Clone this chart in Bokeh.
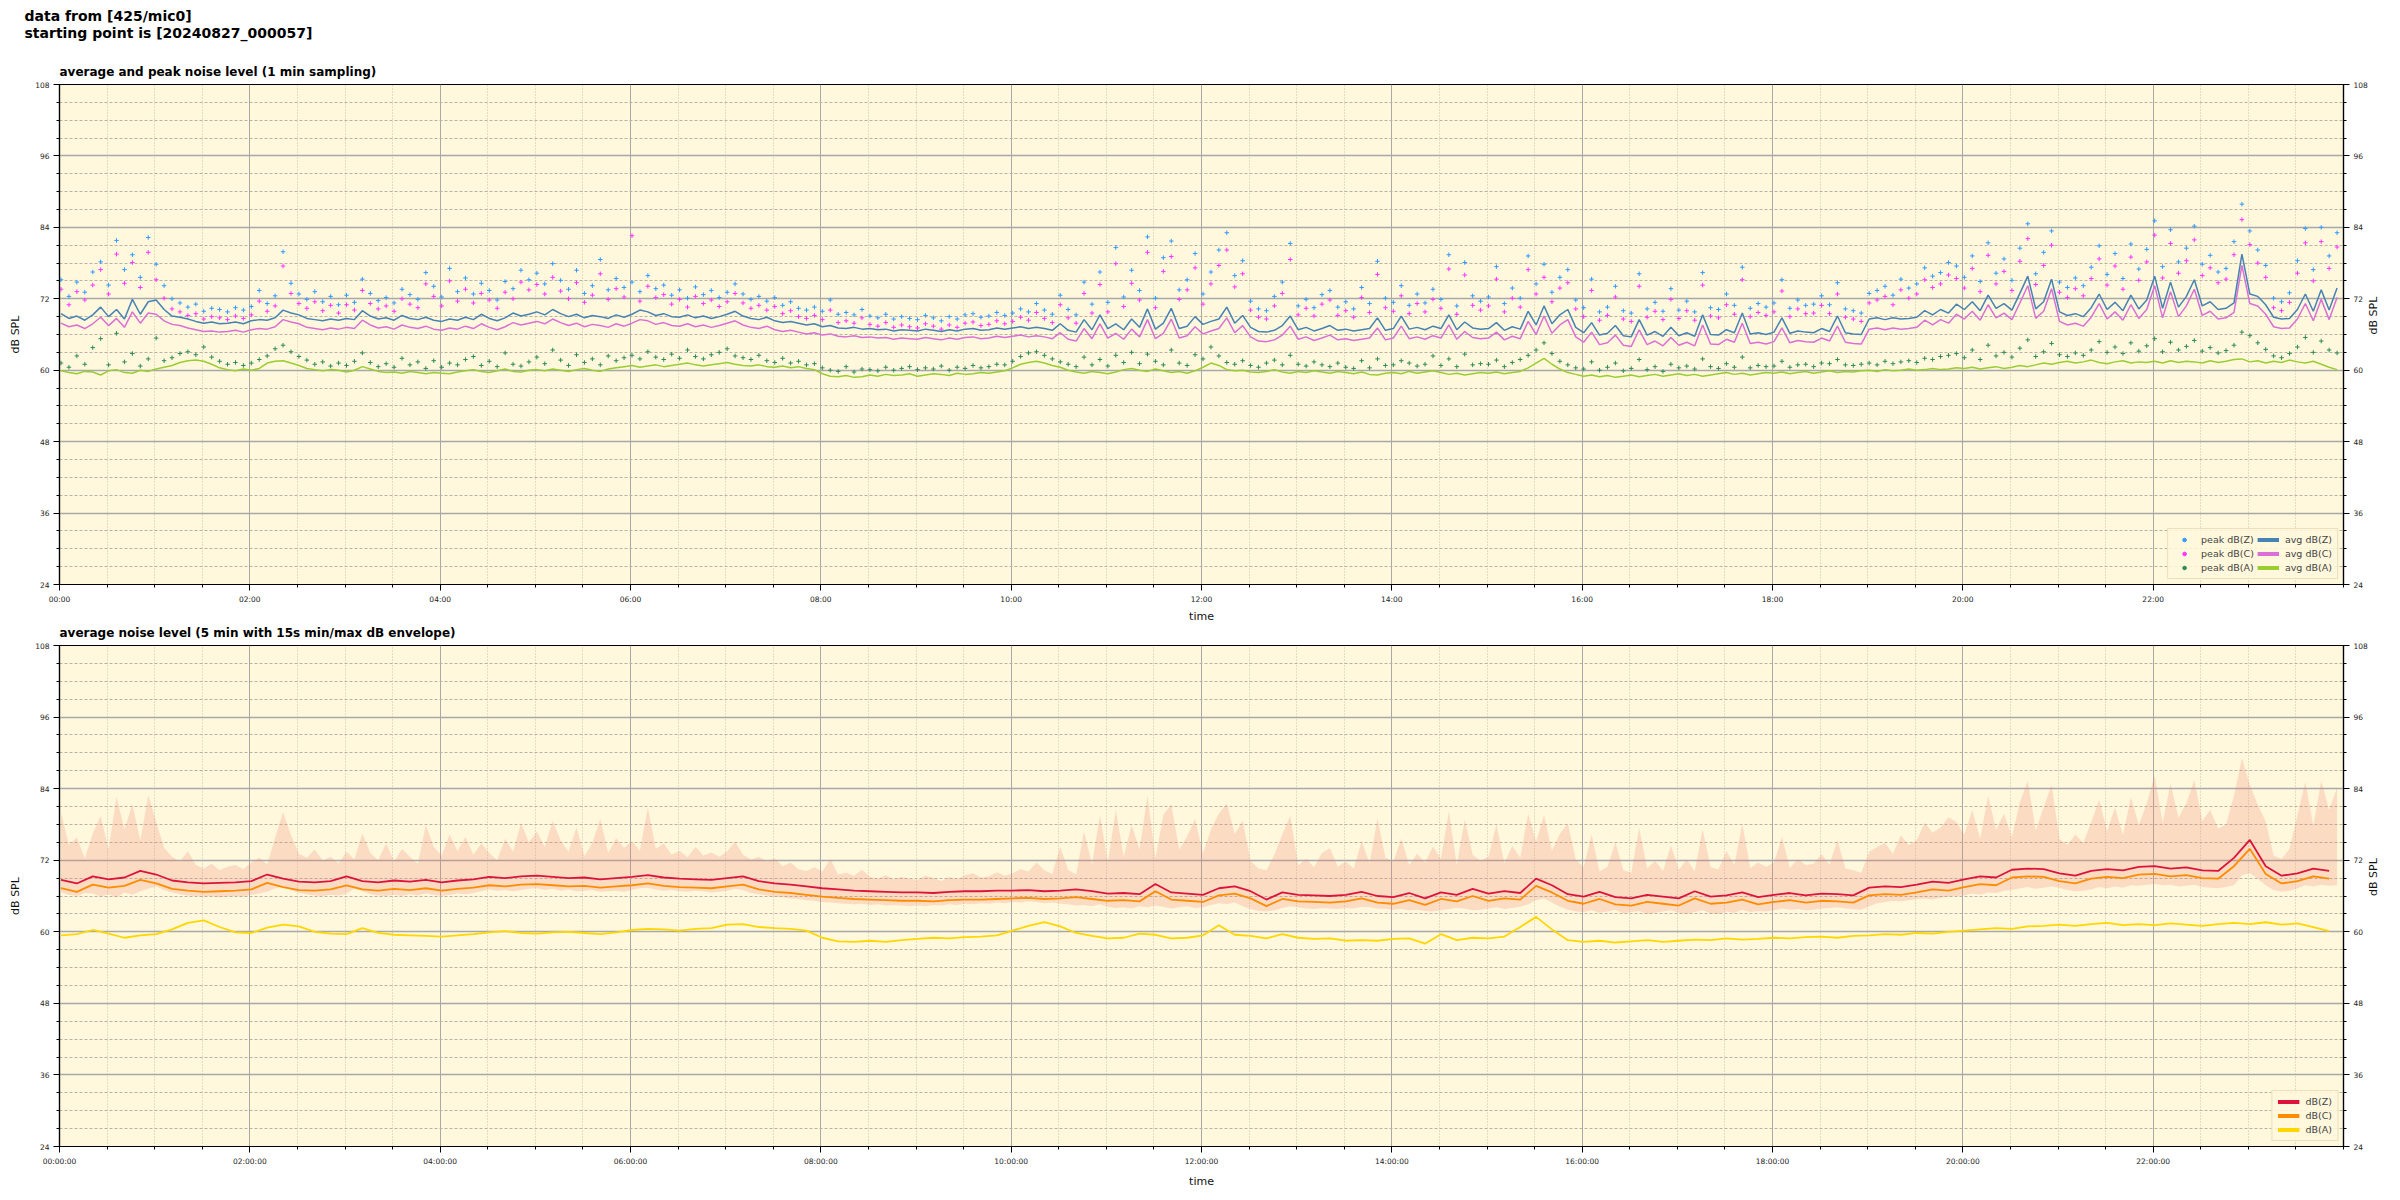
import math
import pandas as pd
from bokeh.plotting import figure
from bokeh.models import (Range1d, LinearAxis, FixedTicker, DatetimeTickFormatter,
                          Legend, LegendItem, Title)
from bokeh.layouts import column
from bokeh.embed import file_html
from bokeh.resources import INLINE

FONT = "DejaVu Sans"
BG = "#FFF8DC"

# ---------------- data ----------------
MAIN_TITLE_1 = "data from [425/mic0]"
MAIN_TITLE_2 = "starting point is [20240827_000057]"
TITLE_TOP = "average and peak noise level (1 min sampling)"
TITLE_BOTTOM = "average noise level (5 min with 15s min/max dB envelope)"

y_major_ticks = [24, 36, 48, 60, 72, 84, 96, 108]
y_minor_ticks = list(range(24, 109, 3))
x_major_hours = list(range(0, 24, 2))
x_minor_minutes = list(range(0, 24 * 60 + 1, 30))

# top panel: 5-minute samples starting 00:00:57 (one row per hour)
avg_z = [
    69.5, 68.7, 69.1, 68.4, 69.3, 70.6, 69.0, 70.2, 68.6, 71.9, 69.4, 71.5,
    71.8, 70.2, 69.1, 68.9, 68.6, 68.2, 67.9, 68.1, 67.8, 67.9, 68.1, 67.8,
    68.3, 68.5, 68.4, 68.8, 70.1, 69.6, 69.3, 68.7, 68.5, 68.3, 68.6, 68.4,
    68.7, 68.5, 70.0, 69.1, 68.6, 68.8, 68.4, 69.2, 68.7, 68.5, 68.9, 68.4,
    68.2, 68.6, 68.4, 68.9, 68.5, 69.4, 68.7, 68.3, 68.8, 69.6, 69.1, 69.4,
    69.8, 69.3, 70.2, 69.5, 69.0, 69.4, 68.8, 69.2, 69.0, 68.7, 69.3, 68.9,
    69.4, 70.1, 69.8, 69.2, 69.5, 69.0, 68.9, 69.3, 68.8, 69.1, 68.7, 69.0,
    69.4, 69.9, 69.1, 68.7, 68.5, 68.9, 68.3, 68.0, 68.2, 67.9, 67.6, 67.8,
    67.3, 67.5, 67.1, 67.0, 67.2, 66.9, 67.0, 66.8, 66.9, 66.6, 66.8, 66.7,
    66.6, 66.9, 66.7, 66.5, 66.8, 66.6, 66.9, 67.0, 66.7, 66.8, 67.1, 66.9,
    67.1, 67.3, 67.0, 67.2, 67.0, 66.7, 67.8, 66.7, 66.4, 68.5, 66.8, 69.3,
    67.0, 67.8, 66.8, 68.6, 67.2, 70.3, 66.9, 67.9, 70.4, 67.0, 67.4, 69.0,
    67.7, 68.2, 68.6, 70.6, 67.9, 69.2, 67.2, 66.5, 66.4, 66.7, 67.5, 69.1,
    66.8, 67.2, 66.6, 67.0, 67.5, 66.7, 66.9, 66.6, 66.8, 67.0, 68.8, 66.7,
    67.0, 69.1, 66.9, 67.2, 66.8, 67.4, 67.0, 69.3, 66.8, 68.1, 67.1, 66.9,
    67.0, 68.0, 66.7, 67.3, 66.9, 69.9, 67.6, 70.8, 67.8, 69.3, 70.2, 67.2,
    66.3, 68.0, 65.9, 66.2, 67.5, 65.8, 65.6, 68.5, 65.9, 66.5, 65.7, 67.2,
    65.8, 66.3, 65.7, 69.3, 66.0, 65.9, 66.8, 66.3, 69.6, 66.1, 66.3, 66.0,
    66.4, 68.8, 66.2, 66.6, 66.4, 66.3, 67.0, 66.5, 69.1, 66.3, 66.1, 66.0,
    68.6, 68.8, 68.5, 68.8, 68.6, 68.7, 68.9, 70.0, 69.3, 70.2, 69.6, 71.1,
    70.2, 71.5, 70.0, 72.6, 70.4, 71.2, 70.1, 72.9, 75.8, 70.3, 71.5, 75.3,
    69.8, 69.2, 69.5, 69.0, 70.5, 72.8, 70.2, 71.4, 70.0, 72.6, 70.3, 71.8,
    75.8, 70.4, 74.8, 70.6, 72.4, 75.2, 70.8, 71.5, 70.2, 70.4, 71.3, 79.5,
    72.8, 72.4, 71.0, 68.9, 68.6, 68.7, 70.2, 72.8, 69.9, 73.5, 70.1, 73.8,
]
avg_c = [
    67.9, 67.3, 67.6, 67.0, 67.8, 68.9, 67.5, 68.7, 67.2, 69.8, 67.9, 69.6,
    69.4, 68.3, 67.7, 67.5, 67.1, 66.8, 66.5, 66.6, 66.4, 66.5, 66.7, 66.4,
    66.8, 67.0, 66.9, 67.3, 68.5, 68.1, 67.8, 67.2, 67.0, 66.8, 67.1, 66.9,
    67.2, 67.0, 68.4, 67.6, 67.1, 67.3, 66.9, 67.6, 67.2, 67.0, 67.4, 66.9,
    66.7, 67.1, 66.9, 67.4, 67.0, 67.8, 67.2, 66.8, 67.3, 68.0, 67.6, 67.9,
    68.2, 67.8, 68.6, 68.0, 67.5, 67.9, 67.3, 67.7, 67.5, 67.2, 67.8, 67.4,
    67.9, 68.5, 68.3, 67.7, 68.0, 67.5, 67.4, 67.8, 67.3, 67.6, 67.2, 67.5,
    67.9, 68.3, 67.6, 67.2, 67.0, 67.4, 66.8, 66.5, 66.7, 66.4, 66.1, 66.3,
    65.9, 66.1, 65.7, 65.6, 65.8, 65.5, 65.6, 65.4, 65.5, 65.2, 65.4, 65.3,
    65.2, 65.5, 65.3, 65.1, 65.4, 65.2, 65.5, 65.6, 65.3, 65.4, 65.7, 65.5,
    65.7, 65.9, 65.6, 65.8, 65.6, 65.3, 66.3, 65.2, 64.9, 67.0, 65.3, 67.8,
    65.4, 66.2, 65.2, 66.9, 65.6, 68.5, 65.3, 66.2, 68.6, 65.4, 65.8, 67.3,
    66.1, 66.6, 67.0, 68.8, 66.3, 67.5, 65.6, 64.9, 64.8, 65.1, 65.9, 67.4,
    65.2, 65.6, 65.0, 65.4, 65.9, 65.1, 65.3, 65.0, 65.2, 65.4, 67.1, 65.1,
    65.4, 67.4, 65.3, 65.6, 65.2, 65.8, 65.4, 67.6, 65.2, 66.5, 65.5, 65.3,
    65.4, 66.4, 65.1, 65.7, 65.3, 68.2, 66.0, 69.1, 66.2, 67.6, 68.5, 65.6,
    64.7, 66.4, 64.3, 64.6, 65.9, 64.2, 64.0, 66.8, 64.3, 64.9, 64.1, 65.5,
    64.2, 64.7, 64.1, 67.6, 64.4, 64.3, 65.2, 64.7, 67.9, 64.5, 64.7, 64.4,
    64.8, 67.1, 64.6, 65.0, 64.8, 64.7, 65.4, 64.9, 67.4, 64.7, 64.5, 64.4,
    66.9, 67.1, 66.8, 67.1, 66.9, 67.0, 67.2, 68.4, 67.6, 68.5, 67.9, 69.4,
    68.6, 69.9, 68.4, 71.0, 68.8, 69.6, 68.5, 71.3, 74.2, 68.7, 69.9, 73.7,
    68.2, 67.6, 67.9, 67.4, 68.9, 71.2, 68.6, 69.8, 68.4, 71.0, 68.7, 70.2,
    74.2, 68.8, 73.2, 69.0, 70.8, 73.6, 69.2, 69.9, 68.6, 68.8, 69.7, 77.6,
    71.2, 70.8, 69.4, 67.3, 67.0, 67.1, 68.6, 71.2, 68.3, 71.9, 68.5, 72.2,
]
avg_a = [
    59.9, 59.6, 59.4, 59.8, 59.7, 59.2, 59.9, 60.1, 59.6, 59.5, 60.0, 59.8,
    60.2, 60.5, 60.8, 61.3, 61.6, 61.7, 61.5, 61.0, 60.4, 60.1, 59.9, 60.2,
    60.0, 60.3, 61.2, 61.5, 61.6, 61.2, 60.8, 60.3, 60.1, 59.9, 60.1, 60.0,
    59.7, 60.0, 60.6, 60.2, 59.8, 59.6, 59.7, 59.5, 59.8, 59.6, 59.4, 59.6,
    59.5, 59.4, 59.7, 59.9, 60.1, 59.8, 59.6, 59.9, 60.2, 59.8, 59.7, 60.0,
    60.1, 59.9, 60.2, 60.0, 59.8, 60.1, 60.3, 60.0, 59.8, 60.2, 60.4, 60.6,
    60.8, 60.5, 60.7, 60.9, 60.6, 60.8, 61.0, 61.2, 60.9, 60.7, 60.9, 61.1,
    61.3, 61.0, 60.8, 60.7, 60.9, 60.6, 60.5, 60.7, 60.4, 60.6, 60.3, 60.1,
    59.4, 59.0, 58.9, 59.1, 58.8, 58.9, 59.2, 59.0, 59.3, 59.1, 59.2, 59.4,
    59.0, 59.2, 59.4, 59.3, 59.1, 59.5, 59.3, 59.4, 59.6, 59.5, 59.7, 59.9,
    60.4, 61.0, 61.3, 61.5, 61.2, 60.8, 60.5, 60.0, 59.7, 59.5, 59.8, 59.6,
    59.4, 59.7, 60.1, 60.3, 60.0, 59.8, 60.2, 59.9, 59.6, 59.8, 59.5, 59.9,
    60.5, 61.2, 60.8, 60.1, 59.9, 60.0, 59.7, 59.6, 59.8, 60.1, 59.7, 59.5,
    59.8, 59.6, 59.9, 59.7, 59.5, 59.8, 59.6, 59.4, 59.7, 59.3, 59.2, 59.5,
    59.6, 59.4, 59.8, 59.5, 59.7, 59.9, 59.6, 59.3, 59.5, 59.2, 59.4, 59.6,
    59.5, 59.7, 59.4, 59.6, 59.8, 60.4, 61.2, 62.0, 61.0, 60.2, 59.6, 59.3,
    59.0, 59.2, 58.9, 59.1, 58.8, 59.0, 59.2, 58.9, 59.1, 59.3, 59.0, 59.2,
    59.4, 59.1, 59.3, 59.0, 59.2, 59.4, 59.6, 59.3, 59.5, 59.2, 59.4, 59.6,
    59.5, 59.7, 59.4, 59.6, 59.8, 59.5, 59.7, 59.9, 59.6, 59.8, 59.7, 59.9,
    60.0, 59.8, 60.1, 59.9, 60.0, 60.2, 60.0, 60.1, 60.3, 60.1, 60.2, 60.4,
    60.3, 60.5, 60.2, 60.4, 60.6, 60.3, 60.5, 60.8, 60.6, 60.9, 61.2, 61.0,
    61.3, 61.5, 61.2, 61.4, 61.7, 61.3, 61.1, 61.4, 61.6, 61.2, 61.4, 61.3,
    61.5, 61.2, 61.6, 61.3, 61.5, 61.4, 61.2, 61.6, 61.3, 61.5, 61.8, 61.9,
    61.4, 61.6, 61.2, 61.5, 61.3, 61.7, 61.4, 61.2, 61.5, 61.0, 60.5, 60.1,
]
peak_z = [
    75.2, 72.4, 74.8, 73.1, 76.5, 78.2, 74.3, 81.8, 76.9, 79.4, 75.6, 82.3,
    77.8, 74.2, 72.0, 71.3, 70.6, 71.1, 69.9, 70.4, 70.2, 69.8, 70.5, 70.1,
    70.7, 73.4, 71.2, 72.5, 79.9, 74.6, 72.8, 71.9, 73.2, 71.5, 72.4, 71.0,
    72.6, 71.4, 75.3, 72.9, 71.7, 72.2, 71.3, 73.6, 72.7, 71.9, 76.4, 74.1,
    72.3, 77.1, 73.2, 75.5, 72.8, 74.6, 73.4, 71.8, 74.9, 73.7, 76.8, 75.2,
    76.3, 74.5, 77.9, 75.1, 73.6, 76.8, 72.9, 74.2, 78.6, 73.5, 75.4, 73.9,
    74.8, 73.2, 75.9, 73.7, 74.3, 72.6, 73.5, 72.1, 74.0, 72.7, 73.4, 72.2,
    73.1, 74.5, 72.8, 71.9, 72.4, 71.6, 72.2, 70.9, 71.5, 70.4, 70.1, 70.6,
    69.9, 71.8, 69.4, 69.7, 69.3, 70.2, 69.1, 68.8, 69.4, 68.6, 69.0, 68.7,
    68.5, 69.2, 68.8, 68.3, 69.0, 68.6, 69.3, 69.5, 68.9, 69.1, 69.7, 69.2,
    69.6, 70.3, 69.8, 71.2, 70.1, 69.4, 72.6, 70.2, 69.3, 74.8, 71.1, 76.5,
    71.4, 80.6, 72.3, 76.8, 73.4, 82.4, 72.1, 78.9, 81.7, 73.5, 75.2, 79.6,
    72.8, 76.5, 80.2, 83.1, 75.9, 78.4, 71.6, 70.3, 70.0, 72.4, 74.8, 81.3,
    70.8, 71.9, 70.5, 72.7, 73.4, 70.6, 71.5, 70.3, 73.9, 71.2, 78.3, 72.1,
    71.4, 74.2, 70.9, 72.8, 71.3, 73.6, 71.9, 79.4, 70.8, 78.1, 72.5, 71.6,
    72.3, 77.4, 71.2, 73.8, 72.1, 79.2, 74.5, 77.8, 73.1, 75.6, 76.9, 71.8,
    70.5, 75.3, 69.8, 70.6, 74.1, 70.0, 69.6, 76.2, 70.3, 71.4, 69.9, 73.7,
    70.1, 71.6, 69.8, 76.4, 70.5, 70.2, 72.8, 70.9, 77.3, 70.4, 71.2, 70.6,
    71.3, 75.2, 70.4, 71.8, 70.9, 71.1, 72.5, 71.0, 74.7, 70.3, 70.0, 69.6,
    72.9, 73.4, 74.1, 72.6, 75.3, 73.8, 74.5, 77.2, 75.8, 76.4, 78.1, 77.5,
    75.6, 79.2, 74.9, 81.4, 76.3, 78.7, 75.1, 80.5, 84.6, 76.2, 79.8, 83.4,
    74.8, 73.9, 75.5, 74.2, 77.3, 80.9, 76.1, 79.6, 75.4, 81.2, 77.0, 80.3,
    85.1, 77.4, 83.6, 78.2, 80.5, 84.2, 77.8, 79.3, 76.5, 77.1, 81.6, 87.9,
    83.4, 80.2, 77.6, 72.1, 71.5, 73.0, 78.4, 83.8, 76.9, 84.0, 79.2, 83.1,
]
peak_c = [
    73.6, 71.0, 73.2, 71.8, 74.3, 76.9, 72.8, 79.5, 74.6, 78.1, 73.9, 79.8,
    75.2, 72.1, 70.3, 69.8, 69.2, 69.5, 68.6, 69.0, 68.8, 68.5, 69.1, 68.7,
    69.3, 71.6, 69.9, 70.8, 77.5, 72.9, 71.2, 70.4, 71.5, 70.0, 70.9, 69.6,
    71.0, 70.1, 73.4, 71.2, 70.3, 70.8, 69.9, 72.0, 71.1, 70.5, 74.5, 72.4,
    70.8, 75.0, 71.6, 73.6, 71.3, 72.9, 71.8, 70.4, 73.1, 72.0, 74.8, 73.5,
    74.4, 72.8, 75.6, 73.3, 72.0, 74.7, 71.4, 72.6, 76.2, 71.9, 73.7, 72.3,
    82.6, 71.6, 74.1, 72.2, 72.7, 71.1, 71.9, 70.6, 72.4, 71.2, 71.8, 70.7,
    71.5, 72.9, 71.3, 70.4, 70.9, 70.1, 70.7, 69.5, 70.0, 69.0, 68.7, 69.2,
    68.5, 70.1, 68.0, 68.3, 67.9, 68.8, 67.7, 67.4, 68.0, 67.2, 67.6, 67.3,
    67.1, 67.8, 67.4, 66.9, 67.6, 67.2, 67.9, 68.1, 67.5, 67.7, 68.3, 67.8,
    68.2, 68.9, 68.4, 69.7, 68.7, 68.0, 71.0, 68.8, 67.9, 72.9, 69.6, 74.4,
    69.8, 77.9, 70.7, 74.6, 71.8, 79.8, 70.5, 76.6, 79.1, 71.9, 73.5, 77.2,
    71.1, 74.5, 77.6, 80.2, 74.0, 76.2, 70.1, 68.9, 68.6, 70.8, 72.9, 78.6,
    69.3, 70.4, 69.1, 71.1, 71.8, 69.2, 70.0, 68.9, 72.2, 69.7, 76.1, 70.5,
    69.9, 72.5, 69.5, 71.2, 69.8, 71.9, 70.4, 77.0, 69.4, 76.0, 70.9, 70.1,
    70.8, 75.3, 69.8, 72.1, 70.6, 76.9, 72.8, 75.6, 71.5, 73.8, 74.7, 70.3,
    69.0, 73.4, 68.4, 69.2, 72.3, 68.6, 68.2, 74.1, 68.9, 69.9, 68.5, 71.9,
    68.7, 70.0, 68.4, 74.3, 69.1, 68.8, 71.0, 69.4, 75.2, 69.0, 69.7, 69.2,
    69.8, 73.3, 69.0, 70.3, 69.5, 69.6, 70.9, 69.5, 72.8, 68.9, 68.6, 68.2,
    71.3, 71.8, 72.4, 71.0, 73.5, 72.1, 72.8, 75.2, 73.9, 74.5, 76.0, 75.4,
    73.8, 77.1, 73.2, 79.3, 74.5, 76.6, 73.4, 78.3, 82.1, 74.4, 77.6, 81.0,
    73.1, 72.2, 73.7, 72.5, 75.4, 78.7, 74.3, 77.5, 73.6, 79.0, 75.1, 78.2,
    82.7, 75.5, 81.3, 76.3, 78.4, 81.9, 75.9, 77.2, 74.7, 75.3, 79.4, 85.3,
    81.1, 78.0, 75.6, 70.5, 70.0, 71.4, 76.3, 81.4, 75.0, 81.6, 77.1, 80.7,
]
peak_a = [
    61.2, 60.5, 62.4, 61.0, 63.8, 65.3, 60.9, 66.2, 61.4, 62.8, 60.7, 61.9,
    65.4, 61.6, 62.1, 62.8, 63.1, 62.6, 63.9, 62.2, 61.5, 61.0, 61.3, 60.8,
    61.2, 61.8, 62.4, 63.6, 64.2, 63.1, 62.3, 61.7, 61.0, 61.4, 60.7, 61.2,
    60.8, 61.5, 62.9, 61.3, 60.6, 61.1, 60.5, 62.0, 60.9, 61.4, 60.3, 61.6,
    60.5, 61.2, 60.9, 61.8, 62.3, 60.8, 61.5, 60.6, 62.9, 61.0, 60.7, 61.4,
    62.2, 61.1, 63.4, 61.7, 60.8, 62.6, 61.3, 61.9, 60.9, 62.4, 61.6, 62.1,
    62.5, 61.9, 63.1, 62.2, 61.8, 62.7, 62.0, 63.4, 62.3, 61.9, 62.6, 63.0,
    63.6, 62.4, 62.1, 61.8, 62.5, 61.6, 61.3, 62.0, 61.2, 61.5, 60.9, 61.1,
    60.4, 60.0, 59.8, 60.6, 59.7, 60.2, 60.1, 59.9, 60.5, 60.0, 60.3, 60.6,
    60.1, 60.4, 60.2, 60.7, 60.0, 60.5, 60.3, 60.8, 60.4, 60.6, 61.0, 60.9,
    61.5, 62.3, 62.9, 63.1, 62.5, 61.9, 61.4, 61.0, 60.6, 62.2, 60.9, 61.8,
    60.7, 62.5, 61.3, 63.0, 61.1, 62.7, 61.5, 60.9, 63.4, 61.2, 60.8, 62.6,
    61.9, 63.9, 62.4, 61.3, 61.0, 61.6, 60.8, 60.5, 61.2, 61.7, 60.9, 62.5,
    61.0, 60.7, 61.4, 60.9, 60.6, 61.2, 60.5, 60.3, 61.6, 60.4, 61.9, 60.8,
    60.9, 61.6, 61.2, 60.7, 61.0, 62.4, 60.8, 61.9, 60.6, 62.7, 60.9, 61.1,
    61.0, 61.7, 60.6, 61.3, 61.8, 62.5, 63.4, 64.6, 62.8, 61.5, 60.9, 60.4,
    60.2, 61.4, 60.0, 60.5, 61.2, 59.9, 60.3, 61.8, 60.1, 60.6, 59.8, 61.0,
    60.4, 60.7, 60.2, 61.9, 60.6, 60.3, 61.1, 60.5, 62.2, 60.4, 60.8, 60.6,
    60.7, 61.5, 60.5, 60.9, 61.0, 60.6, 61.2, 61.1, 61.8, 60.9, 60.8, 61.0,
    61.2, 60.9, 61.5, 61.1, 61.4, 61.6, 61.3, 62.0, 61.8, 62.3, 62.5, 62.8,
    62.1, 63.4, 61.8, 64.2, 62.4, 63.0, 62.2, 63.7, 65.1, 62.3, 63.1, 64.5,
    62.6, 62.3, 62.9, 62.5, 63.4, 64.8, 63.0, 63.9, 62.8, 64.6, 63.2, 64.1,
    65.3, 63.1, 64.7, 63.4, 64.0, 65.0, 63.2, 63.8, 62.9, 63.3, 64.2, 66.4,
    65.8, 64.6, 63.5, 62.4, 62.1, 62.8, 63.9, 65.5, 63.0, 64.9, 63.4, 62.9,
]

# bottom panel: 5-minute averages (10-minute samples), 15 s min/max envelope (5-minute samples)
db_z = [
    68.7, 68.1, 69.3, 68.8, 69.1, 70.2,
    69.6, 68.6, 68.3, 68.1, 68.2, 68.3,
    68.5, 69.6, 68.9, 68.4, 68.3, 68.5,
    69.3, 68.5, 68.3, 68.6, 68.4, 68.7,
    68.3, 68.6, 68.8, 69.2, 69.0, 69.3,
    69.4, 69.2, 69.0, 69.1, 68.8, 69.0,
    69.2, 69.5, 69.1, 68.9, 68.8, 68.7,
    69.0, 69.3, 68.5, 68.1, 67.9, 67.6,
    67.3, 67.1, 66.9, 66.8, 66.7, 66.6,
    66.6, 66.5, 66.7, 66.8, 66.8, 66.9,
    66.9, 67.0, 66.8, 66.9, 67.1, 66.8,
    66.4, 66.5, 66.3, 68.0, 66.6, 66.4,
    66.2, 67.3, 67.6, 66.8, 65.4, 66.6,
    66.2, 66.1, 66.0, 66.2, 66.7, 66.0,
    65.8, 66.5, 65.6, 66.6, 66.2, 67.2,
    66.4, 66.8, 66.5, 68.9, 67.8, 66.3,
    65.9, 66.7, 65.8, 65.6, 66.2, 65.9,
    65.6, 66.8, 65.9, 66.1, 66.6, 65.8,
    66.2, 66.5, 66.1, 66.4, 66.3, 66.1,
    67.4, 67.6, 67.5, 67.9, 68.4, 68.2,
    68.8, 69.3, 69.1, 70.4, 70.6, 70.5,
    69.8, 69.4, 70.2, 70.5, 70.3, 70.9,
    71.0, 70.6, 70.8, 70.3, 70.2, 72.4,
    75.4, 71.0, 69.4, 69.8, 70.6, 70.2,
]
db_c = [
    67.3, 66.7, 67.9, 67.4, 67.7, 68.7,
    68.1, 67.2, 66.9, 66.7, 66.8, 66.9,
    67.1, 68.2, 67.5, 67.0, 66.9, 67.1,
    67.8, 67.1, 66.9, 67.2, 67.0, 67.3,
    66.9, 67.2, 67.4, 67.8, 67.6, 67.9,
    68.0, 67.8, 67.6, 67.7, 67.4, 67.6,
    67.8, 68.1, 67.7, 67.5, 67.4, 67.3,
    67.6, 67.9, 67.1, 66.7, 66.5, 66.2,
    65.9, 65.7, 65.5, 65.4, 65.3, 65.2,
    65.2, 65.1, 65.3, 65.4, 65.4, 65.5,
    65.6, 65.7, 65.5, 65.6, 65.8, 65.5,
    65.2, 65.3, 65.1, 66.8, 65.4, 65.2,
    65.0, 66.1, 66.4, 65.6, 64.3, 65.5,
    65.1, 65.0, 64.9, 65.1, 65.6, 64.9,
    64.7, 65.3, 64.5, 65.5, 65.1, 66.0,
    65.2, 65.6, 65.4, 67.7, 66.6, 65.2,
    64.7, 65.5, 64.6, 64.4, 65.0, 64.7,
    64.4, 65.6, 64.7, 64.9, 65.4, 64.6,
    65.0, 65.3, 64.9, 65.2, 65.1, 64.9,
    66.1, 66.3, 66.2, 66.6, 67.1, 66.9,
    67.5, 68.0, 67.8, 69.1, 69.3, 69.2,
    68.5, 68.1, 68.9, 69.2, 69.0, 69.6,
    69.7, 69.3, 69.5, 69.0, 68.9, 71.0,
    73.9, 69.7, 68.1, 68.5, 69.3, 68.9,
]
db_a = [
    59.4, 59.6, 60.3, 59.7, 59.0, 59.4,
    59.6, 60.4, 61.5, 61.9, 60.8, 59.9,
    59.8, 60.7, 61.2, 60.9, 60.0, 59.7,
    59.6, 60.6, 59.8, 59.5, 59.4, 59.3,
    59.2, 59.4, 59.6, 59.9, 60.1, 59.8,
    59.7, 59.9, 60.0, 59.8, 59.6, 59.9,
    60.3, 60.5, 60.4, 60.2, 60.5, 60.6,
    61.2, 61.3, 60.8, 60.6, 60.5, 60.2,
    59.0, 58.4, 58.3, 58.5, 58.3, 58.6,
    58.8, 59.0, 58.9, 59.1, 59.2, 59.4,
    60.2, 61.0, 61.6, 60.9, 59.8, 59.3,
    58.9, 59.0, 59.7, 59.5, 58.9, 59.0,
    59.4, 61.1, 59.5, 59.3, 58.9, 59.6,
    59.0, 58.8, 58.9, 58.5, 58.6, 58.5,
    58.8, 58.9, 58.0, 59.6, 58.6, 59.0,
    58.9, 59.2, 60.8, 62.5, 60.4, 58.6,
    58.3, 58.5, 58.2, 58.4, 58.6, 58.3,
    58.5, 58.7, 58.6, 58.9, 58.7, 58.8,
    59.0, 58.9, 59.1, 59.2, 59.0, 59.3,
    59.4, 59.6, 59.5, 59.8, 59.7, 60.0,
    60.2, 60.4, 60.6, 60.5, 60.9, 61.0,
    61.2, 61.0, 61.3, 61.5, 61.1, 61.3,
    61.1, 61.4, 61.2, 61.0, 61.3, 61.5,
    61.3, 61.6, 61.2, 61.4, 60.8, 60.1,
]
env_max = [
    80.0, 74.6, 75.8, 72.3, 76.5, 79.4, 73.8, 82.6, 77.2, 81.4, 75.3, 82.9,
    78.4, 74.1, 72.6, 71.8, 73.5, 71.2, 70.6, 71.4, 70.3, 70.9, 71.2, 70.5,
    71.6, 72.4, 71.3, 75.8, 80.1, 76.2, 73.1, 72.4, 73.8, 71.9, 72.6, 71.5,
    73.4, 72.1, 76.5, 73.2, 72.0, 74.8, 71.8, 73.9, 72.6, 71.4, 77.9, 74.2,
    72.8, 76.3, 73.5, 75.9, 72.9, 74.8, 73.2, 72.0, 75.6, 73.4, 78.2, 75.0,
    76.8, 74.2, 78.6, 75.3, 73.4, 77.5, 72.7, 74.9, 78.9, 73.2, 75.7, 74.1,
    75.2, 73.6, 80.8, 73.9, 74.8, 72.9, 73.6, 72.5, 74.2, 72.8, 73.3, 72.6,
    73.5, 75.1, 72.9, 72.1, 72.6, 71.8, 72.3, 71.0, 71.6, 70.5, 70.2, 70.8,
    70.1, 72.2, 69.6, 69.9, 69.4, 70.4, 69.2, 68.9, 69.5, 68.8, 69.2, 68.9,
    68.7, 69.4, 69.0, 68.5, 69.2, 68.8, 69.5, 69.8, 69.1, 69.3, 70.0, 69.4,
    69.8, 70.5, 70.1, 71.6, 70.3, 69.7, 74.2, 70.4, 69.6, 76.8, 71.3, 79.5,
    71.6, 80.4, 72.6, 77.9, 73.8, 82.8, 72.3, 79.6, 81.4, 73.8, 76.0, 78.9,
    73.1, 77.2, 79.8, 81.5, 76.4, 78.6, 71.9, 70.6, 70.3, 72.9, 76.3, 79.4,
    71.1, 72.3, 70.8, 73.2, 74.0, 70.9, 71.8, 70.6, 75.2, 71.5, 79.0, 72.4,
    71.8, 75.6, 71.2, 73.1, 71.6, 74.3, 72.2, 80.2, 71.1, 78.8, 72.9, 71.9,
    72.6, 78.0, 71.5, 74.4, 72.4, 79.8, 75.1, 79.6, 73.6, 76.4, 78.2, 72.1,
    70.8, 76.3, 70.1, 70.9, 75.0, 70.3, 69.9, 77.4, 70.6, 71.9, 70.2, 74.5,
    70.4, 72.1, 70.1, 77.2, 70.8, 70.5, 73.5, 71.2, 78.1, 70.7, 71.6, 70.9,
    71.6, 75.9, 70.7, 72.2, 71.2, 71.4, 73.0, 71.3, 75.4, 70.6, 70.3, 69.9,
    73.4, 74.2, 74.9, 73.1, 76.2, 74.5, 75.4, 78.3, 76.6, 77.5, 79.2, 78.4,
    76.3, 80.4, 75.6, 82.8, 77.1, 79.8, 75.9, 81.7, 85.3, 77.0, 80.9, 84.6,
    75.5, 74.6, 76.3, 74.9, 78.4, 82.1, 76.9, 80.8, 76.2, 82.6, 77.9, 81.5,
    86.2, 78.3, 84.8, 79.1, 81.6, 85.4, 78.6, 80.4, 77.3, 78.0, 82.8, 89.1,
    84.6, 81.3, 78.5, 72.8, 72.2, 73.9, 79.6, 85.1, 77.8, 85.3, 80.4, 84.2,
]
env_min = [
    66.6, 66.2, 66.0, 66.5, 66.4, 65.9, 66.3, 65.8, 66.6, 66.2, 66.8, 67.2,
    67.6, 67.0, 66.6, 66.3, 66.1, 66.0, 65.9, 66.0, 65.8, 65.9, 66.0, 65.9,
    66.2, 66.4, 66.7, 67.3, 67.6, 67.0, 66.5, 66.3, 66.1, 66.0, 66.2, 66.1,
    66.4, 67.2, 66.8, 66.3, 66.1, 66.0, 66.2, 66.0, 66.3, 66.1, 66.4, 66.2,
    66.0, 66.2, 66.4, 66.3, 66.5, 66.8, 67.1, 66.9, 67.0, 66.8, 67.0, 67.2,
    67.3, 67.0, 67.2, 66.9, 67.1, 66.8, 66.9, 67.0, 66.7, 66.8, 66.9, 66.7,
    67.0, 67.3, 67.4, 67.1, 66.9, 67.0, 66.8, 66.7, 66.9, 66.8, 66.6, 66.7,
    66.9, 67.2, 67.0, 66.5, 66.3, 66.1, 65.9, 65.8, 65.6, 65.5, 65.3, 65.2,
    65.0, 64.9, 64.8, 64.7, 64.6, 64.7, 64.5, 64.6, 64.4, 64.5, 64.4, 64.3,
    64.4, 64.3, 64.5, 64.4, 64.6, 64.5, 64.7, 64.6, 64.8, 64.7, 64.9, 64.8,
    65.0, 64.9, 65.1, 65.0, 64.8, 64.9, 64.7, 64.6, 64.4, 64.5, 64.3, 64.6,
    64.2, 64.0, 64.1, 63.9, 64.3, 64.1, 64.4, 64.2, 63.9, 64.1, 64.3, 64.0,
    64.1, 64.5, 64.8, 64.6, 64.9, 64.3, 63.8, 63.5, 63.4, 63.6, 64.0, 64.3,
    64.1, 63.9, 63.8, 64.0, 63.9, 63.8, 64.0, 63.9, 64.2, 64.1, 63.9, 63.8,
    63.7, 63.8, 63.6, 63.7, 63.5, 63.4, 63.6, 63.8, 64.0, 63.9, 63.6, 63.7,
    63.9, 64.1, 63.8, 64.0, 64.2, 64.6, 65.3, 65.6, 64.9, 64.2, 63.7, 63.4,
    63.3, 63.6, 63.2, 63.4, 63.7, 63.1, 63.3, 63.5, 63.0, 63.2, 63.4, 63.6,
    63.2, 63.0, 63.3, 63.6, 63.1, 63.0, 63.4, 63.2, 63.7, 63.3, 63.5, 63.4,
    63.6, 63.9, 63.7, 63.8, 63.6, 63.7, 63.9, 64.0, 64.1, 63.9, 63.8, 63.7,
    64.3, 64.8, 65.0, 65.2, 65.1, 65.3, 65.5, 65.6, 65.4, 65.7, 65.9, 66.0,
    66.1, 66.4, 66.2, 66.6, 66.5, 66.9, 67.0, 67.3, 67.5, 67.2, 67.4, 67.6,
    67.4, 67.0, 66.8, 66.9, 67.1, 67.5, 67.3, 67.6, 67.4, 67.8, 67.7, 67.9,
    68.0, 67.8, 67.9, 67.6, 67.7, 67.9, 67.5, 67.4, 67.3, 67.5, 67.8, 69.5,
    69.8, 68.9, 67.8, 67.0, 66.7, 66.9, 67.3, 67.8, 67.6, 67.9, 67.7, 67.8,
]

# sampling grids (time axis)
t5 = pd.date_range("2024-08-27 00:00:57", periods=len(avg_z), freq="5min")
t10 = pd.date_range("2024-08-27 00:00:57", periods=len(db_z), freq="10min")

DAY0 = pd.Timestamp("2024-08-27")
X0 = DAY0.value // 10**6
X1 = X0 + 24 * 3600 * 1000
x_major = [X0 + h * 3600 * 1000 for h in x_major_hours]
x_minor = [X0 + m * 60 * 1000 for m in x_minor_minutes]

RES = ["microseconds", "milliseconds", "seconds", "minsec", "minutes",
       "hourmin", "hours", "days", "months", "years"]

FIG_W = 2392
FRAME_H = 504


def make_fig(height, border_top, border_bottom, time_fmt, xlabel_standoff):
    p = figure(width=FIG_W, height=height, x_axis_type="datetime",
               x_range=Range1d(X0, X1), y_range=Range1d(24, 108),
               output_backend="svg", toolbar_location=None,
               min_border_left=59, min_border_right=49,
               min_border_top=border_top, min_border_bottom=border_bottom,
               background_fill_color=BG, border_fill_color="white")
    p.title = None
    xt = FixedTicker(ticks=x_major, minor_ticks=x_minor)
    yt = FixedTicker(ticks=y_major_ticks, minor_ticks=y_minor_ticks)
    p.xaxis.ticker = xt
    p.xaxis.formatter = DatetimeTickFormatter(**{k: time_fmt for k in RES})
    p.xaxis.axis_label = "time"
    p.xaxis.axis_label_standoff = xlabel_standoff
    p.yaxis.ticker = yt
    p.yaxis.axis_label = "dB SPL"
    p.yaxis.axis_label_standoff = 10
    ax_r = LinearAxis(ticker=yt, axis_label="dB SPL", axis_label_standoff=3)
    try:
        ax_r.axis_label_orientation = math.pi / 2
    except Exception:
        pass
    p.add_layout(ax_r, "right")
    for ax in list(p.xaxis) + list(p.yaxis):
        ax.axis_line_color = "black"
        ax.axis_line_width = 1.2
        ax.major_tick_out = 6
        ax.major_tick_in = 0
        ax.minor_tick_out = 3
        ax.minor_tick_in = 0
        ax.major_tick_line_color = "black"
        ax.minor_tick_line_color = "black"
        ax.major_label_text_font = FONT
        ax.major_label_text_font_size = "7.5px"
        ax.major_label_text_color = "#222222"
        ax.major_label_standoff = 4
        ax.axis_label_text_font = FONT
        ax.axis_label_text_font_size = "11px"
        ax.axis_label_text_font_style = "normal"
        ax.axis_label_text_color = "#111111"
    p.xgrid.ticker = xt
    p.ygrid.ticker = yt
    p.xgrid.grid_line_color = "#a8a8a8"
    p.xgrid.grid_line_width = 1
    p.xgrid.minor_grid_line_color = "#c8c0a8"
    p.xgrid.minor_grid_line_dash = "1 2"
    p.ygrid.grid_line_color = "#a8a8a8"
    p.ygrid.grid_line_width = 1.3
    p.ygrid.minor_grid_line_color = "#b8b2a4"
    p.ygrid.minor_grid_line_dash = "3 2"
    p.outline_line_color = "black"
    p.outline_line_width = 1.2
    p.outline_line_alpha = 1
    return p


def add_title(p, text, size, standoff, offset=0, line_height=None):
    t = Title(text=text, text_font=FONT, text_font_size=size,
              text_font_style="bold", align="left", standoff=standoff,
              offset=offset, text_color="black")
    if line_height is not None:
        try:
            t.text_line_height = line_height
        except Exception:
            pass
    p.add_layout(t, "above")


def style_legend(leg):
    leg.location = "bottom_right"
    leg.label_text_font = FONT
    leg.label_text_font_size = "9.5px"
    leg.label_height = 9
    leg.glyph_height = 9
    leg.glyph_width = 22
    leg.spacing = 3
    leg.padding = 5
    leg.margin = 5
    leg.label_standoff = 6
    leg.background_fill_color = BG
    leg.background_fill_alpha = 0.85
    leg.border_line_color = "#d9c6a0"
    leg.border_line_width = 1


# ---------------- top figure ----------------
p1 = make_fig(84 + FRAME_H + 37, 84, 37, "%H:%M", 3)
# panels stack outward from the frame: sub-title, spacer, two-line main title
add_title(p1, TITLE_TOP, "12px", 12)
add_title(p1, " ", "1px", 12)
add_title(p1, MAIN_TITLE_1 + "\n" + MAIN_TITLE_2, "14px", 0, -35, 1.07)

COL_PZ, COL_PC, COL_PA = "#3399ff", "#ff33ff", "#2e8b57"
COL_AZ, COL_AC, COL_AA = "#4682b4", "#da70d6", "#9acd32"

p1.scatter(t5, peak_a, marker="cross", size=4.5, line_width=1, color=COL_PA)
p1.scatter(t5, peak_c, marker="cross", size=4.5, line_width=1, color=COL_PC)
p1.scatter(t5, peak_z, marker="cross", size=4.5, line_width=1, color=COL_PZ)
p1.line(t5, avg_a, line_width=1.5, color=COL_AA)
p1.line(t5, avg_c, line_width=1.5, color=COL_AC)
p1.line(t5, avg_z, line_width=1.5, color=COL_AZ)

# legend handles: points far below the visible y range, shown only in the legend
HX = [X0, X0 + 60000]
HY = [-100, -100]
lg_pz = p1.scatter(HX, HY, marker="circle", size=5, color=COL_PZ)
lg_pc = p1.scatter(HX, HY, marker="circle", size=5, color=COL_PC)
lg_pa = p1.scatter(HX, HY, marker="circle", size=5, color=COL_PA)
lg_az = p1.line(HX, HY, line_width=4, color=COL_AZ)
lg_ac = p1.line(HX, HY, line_width=4, color=COL_AC)
lg_aa = p1.line(HX, HY, line_width=4, color=COL_AA)
leg1 = Legend(items=[
    LegendItem(label="peak dB(Z)", renderers=[lg_pz]),
    LegendItem(label="peak dB(C)", renderers=[lg_pc]),
    LegendItem(label="peak dB(A)", renderers=[lg_pa]),
    LegendItem(label="avg dB(Z)", renderers=[lg_az]),
    LegendItem(label="avg dB(C)", renderers=[lg_ac]),
    LegendItem(label="avg dB(A)", renderers=[lg_aa]),
], ncols=2)
style_legend(leg1)
p1.add_layout(leg1)

# ---------------- bottom figure ----------------
# its top border overlaps the (transparent) bottom of the upper figure by 8 px
p2 = make_fig(28 + FRAME_H + 41, 28, 41, "%H:%M:%S", 6)
p2.border_fill_alpha = 0
p2.margin = (-8, 0, 0, 0)
add_title(p2, TITLE_BOTTOM, "12px", 12)

COL_Z, COL_C, COL_A = "#dc143c", "#ff8c00", "#ffd700"
p2.varea(x=t5, y1=env_min, y2=env_max, fill_color="#f08070", fill_alpha=0.24)
p2.line(t10, db_a, line_width=1.8, color=COL_A)
p2.line(t10, db_c, line_width=1.8, color=COL_C)
p2.line(t10, db_z, line_width=1.8, color=COL_Z)

lg_z = p2.line(HX, HY, line_width=4, color=COL_Z)
lg_c = p2.line(HX, HY, line_width=4, color=COL_C)
lg_a = p2.line(HX, HY, line_width=4, color=COL_A)
leg2 = Legend(items=[
    LegendItem(label="dB(Z)", renderers=[lg_z]),
    LegendItem(label="dB(C)", renderers=[lg_c]),
    LegendItem(label="dB(A)", renderers=[lg_a]),
])
style_legend(leg2)
p2.add_layout(leg2)

layout = column(p1, p2, spacing=0)
with open("out.html", "w") as f:
    f.write(file_html(layout, INLINE))
